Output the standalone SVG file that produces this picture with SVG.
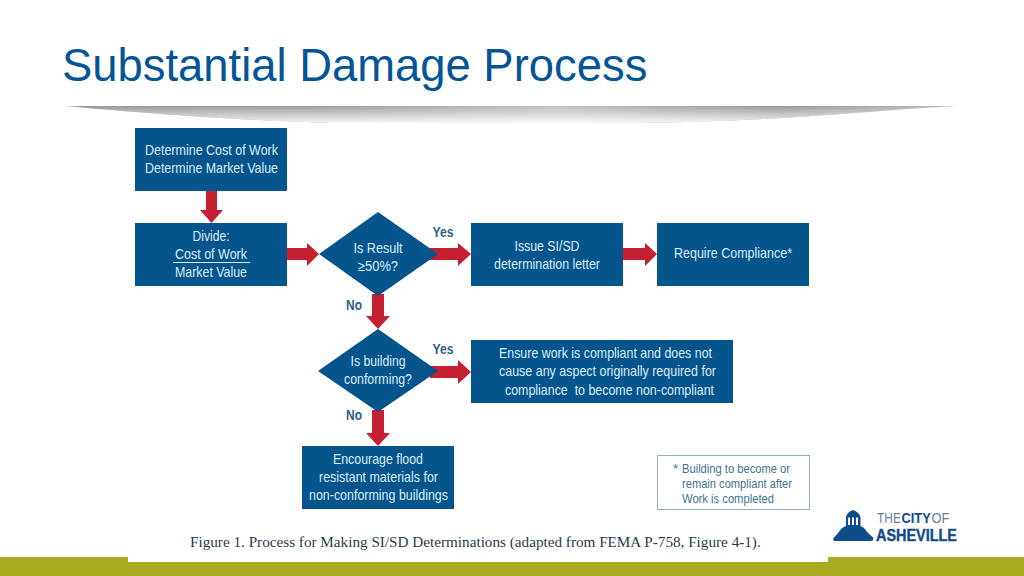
<svg xmlns="http://www.w3.org/2000/svg" width="1024" height="576" viewBox="0 0 1024 576">
<defs>
<linearGradient id="sh" x1="0" y1="0" x2="1" y2="0">
<stop offset="0" stop-color="#999"/><stop offset="0.3" stop-color="#a0a0a0"/><stop offset="0.55" stop-color="#c0c0c0"/><stop offset="0.8" stop-color="#999"/><stop offset="1" stop-color="#bbb"/>
</linearGradient>
<linearGradient id="fade" x1="0" y1="0" x2="0" y2="1">
<stop offset="0" stop-color="#fff" stop-opacity="0"/><stop offset="1" stop-color="#fff" stop-opacity="0.9"/>
</linearGradient>
</defs>
<style>
.box{fill:#05558c}
.t{font-family:"Liberation Sans",Arial,sans-serif;font-size:14.2px;fill:#d9ecf7;text-anchor:middle}
.l{font-family:"Liberation Sans",Arial,sans-serif;font-size:14px;font-weight:bold;fill:#2c6284;text-anchor:middle}
.a{fill:#c51f32}
.n{font-family:"Liberation Sans",Arial,sans-serif;font-size:13.2px;fill:#3f7391}
.lg{font-family:"Liberation Sans",Arial,sans-serif;font-size:15.500px}
</style>
<rect width="1024" height="576" fill="#fff"/>
<g id="olive-bar" fill="#a9ac21"><rect x="0" y="557" width="128" height="19"/><rect x="128" y="562" width="700" height="14"/><rect x="828" y="557" width="196" height="19"/></g>
<text id="title" x="62" y="81" font-family="Liberation Sans,Arial,sans-serif" font-size="45.400" fill="#045596">Substantial Damage Process</text>
<g id="title-rule"><path d="M65 106H958C870 110 780 123 600 123H330C230 120 130 112 65 106Z" fill="url(#sh)"/><path d="M65 106H958C870 110 780 123 600 123H330C230 120 130 112 65 106Z" fill="url(#fade)"/></g>
<g id="connectors" class="a">
<path d="M206 191H217V210H223L211.500 223L200 210H206Z"/>
<path d="M287 248H307V243L319 254L307 266V260H287Z"/>
<path d="M430 248H458V243L471 254L458 266V260H430Z"/>
<path d="M623 248H645V243L657 254L645 266V260H623Z"/>
<path d="M372 294H384V316H390L378 329L366 316H372Z"/>
<path d="M430 366H458V360L471 372L458 384V378H430Z"/>
<path d="M372 410H384V433H390L378 446L366 433H372Z"/>
</g>
<g id="n1"><rect class="box" x="135" y="128" width="152" height="63"/><text class="t" x="211.500" y="155" textLength="133" lengthAdjust="spacingAndGlyphs">Determine Cost of Work</text><text class="t" x="211.500" y="173" textLength="133" lengthAdjust="spacingAndGlyphs">Determine Market Value</text></g>
<g id="n2"><rect class="box" x="135" y="223" width="152" height="63"/><text class="t" x="211" y="241" textLength="37" lengthAdjust="spacingAndGlyphs">Divide:</text><text class="t" x="211" y="259" textLength="72" lengthAdjust="spacingAndGlyphs">Cost of Work</text><rect x="173" y="262" width="77" height="1" fill="#d9ecf7"/><text class="t" x="211" y="277" textLength="72" lengthAdjust="spacingAndGlyphs">Market Value</text></g>
<g id="d1"><path class="box" d="M378 212L438 254L378 296L319 254Z"/><text class="t" x="378" y="253" textLength="49" lengthAdjust="spacingAndGlyphs">Is Result</text><text class="t" x="378" y="271" textLength="40" lengthAdjust="spacingAndGlyphs">≥50%?</text></g>
<g id="n3"><rect class="box" x="471" y="223" width="152" height="63"/><text class="t" x="547" y="251" textLength="65" lengthAdjust="spacingAndGlyphs">Issue SI/SD</text><text class="t" x="547" y="269" textLength="106" lengthAdjust="spacingAndGlyphs">determination letter</text></g>
<g id="n4"><rect class="box" x="657" y="223" width="152" height="63"/><text class="t" x="733" y="258" textLength="118" lengthAdjust="spacingAndGlyphs">Require Compliance*</text></g>
<g id="d2"><path class="box" d="M378 329L438 371L378 412L318 371Z"/><text class="t" x="378" y="366" textLength="55" lengthAdjust="spacingAndGlyphs">Is building</text><text class="t" x="378" y="384" textLength="68" lengthAdjust="spacingAndGlyphs">conforming?</text></g>
<g id="n5"><rect class="box" x="471" y="340" width="262" height="63"/><text class="t" x="605.500" y="358" textLength="213" lengthAdjust="spacingAndGlyphs">Ensure work is compliant and does not</text><text class="t" x="607.500" y="376" textLength="217" lengthAdjust="spacingAndGlyphs">cause any aspect originally required for</text><text class="t" x="609.500" y="395" textLength="209" lengthAdjust="spacingAndGlyphs" xml:space="preserve">compliance  to become non-compliant</text></g>
<g id="n6"><rect class="box" x="302" y="446" width="152" height="63"/><text class="t" x="378" y="464" textLength="90" lengthAdjust="spacingAndGlyphs">Encourage flood</text><text class="t" x="378.500" y="482" textLength="119" lengthAdjust="spacingAndGlyphs">resistant materials for</text><text class="t" x="378.500" y="500" textLength="139" lengthAdjust="spacingAndGlyphs">non-conforming buildings</text></g>
<g id="labels"><text class="l" x="443" y="237" textLength="21" lengthAdjust="spacingAndGlyphs">Yes</text><text class="l" x="354" y="310" textLength="16" lengthAdjust="spacingAndGlyphs">No</text><text class="l" x="443" y="354" textLength="21" lengthAdjust="spacingAndGlyphs">Yes</text><text class="l" x="354" y="420" textLength="16" lengthAdjust="spacingAndGlyphs">No</text></g>
<g id="note"><rect x="657.500" y="455.500" width="152" height="54" fill="#fff" stroke="#8fb0c0" stroke-width="1"/><text class="n" x="673" y="473">*</text><text class="n" x="682" y="473" textLength="108" lengthAdjust="spacingAndGlyphs">Building to become or</text><text class="n" x="682" y="488" textLength="110" lengthAdjust="spacingAndGlyphs">remain compliant after</text><text class="n" x="682" y="503" textLength="92" lengthAdjust="spacingAndGlyphs">Work is completed</text></g>
<text id="caption" x="190" y="547" font-family="Liberation Serif,Times New Roman,serif" font-size="15.200" fill="#2a3a4a">Figure 1. Process for Making SI/SD Determinations (adapted from FEMA P-758, Figure 4-1).</text>
<g id="logo" fill="#0f4c8a">
<path d="M846 517Q847 512 853 510Q859 512 860.500 517V526L864 528L868 533L873 537.500Q874 541 871 541H835Q832 541 834 537.500L838 533L842 528L846 526Z"/>
<path fill="#fff" d="M848 517.500H850V525H848ZM852 517.500H854V525H852ZM856 517.500H858V525H856Z"/>
<text class="lg" transform="translate(877 522.500) scale(.77 1)" fill="#6b7f96">THE</text>
<text class="lg" transform="translate(901.500 522.500) scale(.83 1)" font-weight="bold">CITY</text>
<text class="lg" transform="translate(931.500 522.500) scale(.83 1)" fill="#6b7f96">OF</text>
<text x="876" y="541" textLength="81" lengthAdjust="spacingAndGlyphs" font-family="Liberation Sans,Arial,sans-serif" font-size="16.500" font-weight="bold" stroke="#0f4c8a" stroke-width="0.400">ASHEVILLE</text>
</g>
</svg>
